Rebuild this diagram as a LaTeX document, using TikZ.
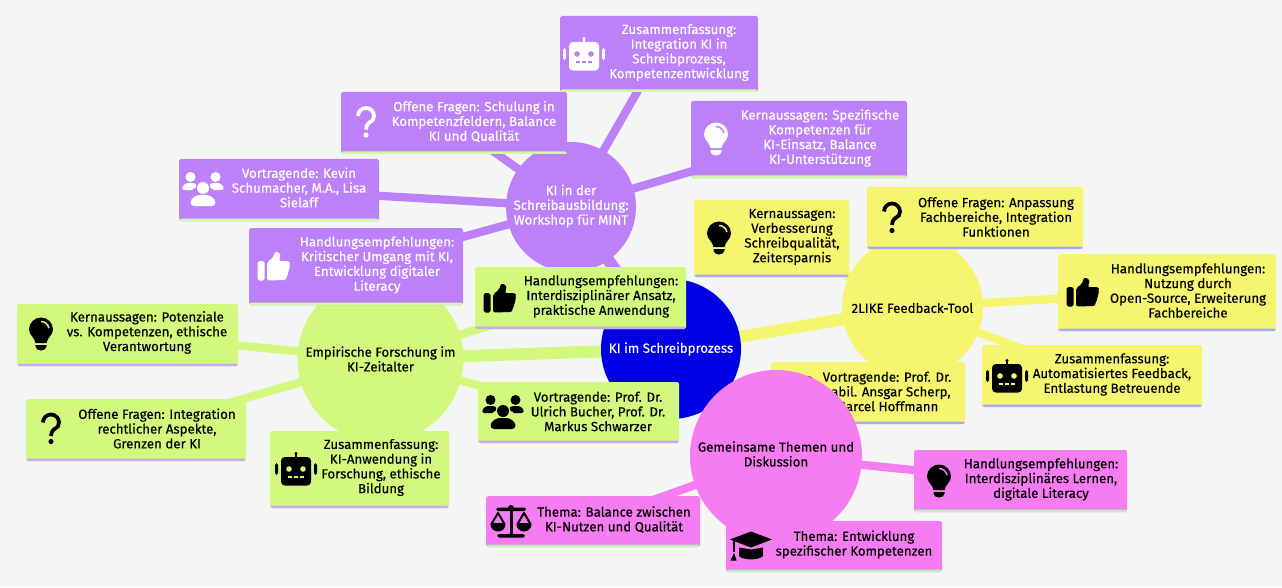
\documentclass[tikz,border=0pt]{standalone}
\usepackage{fontspec}
\setmainfont[RawFeature={embolden=0.3}]{Fira Sans}
\usepackage{tikz}
\pgfdeclarelayer{bg}
\pgfsetlayers{bg,main}
\definecolor{pagebg}{HTML}{F4F6F6}
\definecolor{rootc}{HTML}{0000E4}
\definecolor{purplec}{HTML}{BC80F9}
\definecolor{yellowc}{HTML}{F6F570}
\definecolor{greenc}{HTML}{D2F97E}
\definecolor{pinkc}{HTML}{F57CF1}
\definecolor{purplestrip}{HTML}{D4F6A8}
\definecolor{yellowstrip}{HTML}{A9A9FB}
\definecolor{greenstrip}{HTML}{C8A8F9}
\definecolor{pinkstrip}{HTML}{B8F2B8}
\tikzset{
    every node/.style={inner sep=0mm, align=center, font=\fontsize{7.55}{8.39}\selectfont},
    hub/.style={circle, fill=#1},
    leaf/.style 2 args={rectangle, rounded corners=1pt, fill=#1, path picture={
        \fill[#2] ([yshift=.05cm]path picture bounding box.south west) rectangle (path picture bounding box.south east);}},
    tag/.style={yshift=-.03cm},
    stem/.style={line width=.24cm, draw=#1},
    twig/.style={line width=.165cm, draw=#1},
    icon/.style={scale=.02},
    pics/bulb/.style 2 args={code={
        \fill[#1] (-5.5,-9) .. controls (-6,-4) and (-12,-1) .. (-12,4.5) arc[start angle=180, end angle=0, radius=12] .. controls (12,-1) and (6,-4) .. (5.5,-9) -- cycle;
        \draw[#2, line width=.03cm] (0,12.5) arc[start angle=90, end angle=10, radius=8];
        \fill[#1] (-5.5,-11) -- (5.5,-11) -- (5.5,-12.5) arc[start angle=0, end angle=-180, x radius=5.5, y radius=4] -- cycle;
    }},
    pics/hook/.style={code={
        \draw[#1, line width=.075cm] (-8,6.5) arc[start angle=180, end angle=-30, radius=8] .. controls (4,0) and (0,-1) .. (0,-7);
        \fill[#1] (0,-12.5) circle[radius=2.6];
    }},
    pics/thumb/.style={code={
        \fill[#1, rounded corners=1pt] (-16.5,-14.5) rectangle (-9.5,5);
        \fill[#1, rounded corners=1.2pt] (-7,-14.5) -- (-7,4) -- (-1,8) -- (1,14.5) -- (6,13) -- (6.5,8) -- (4.5,5) -- (15,5) -- (16.5,2) -- (15,-2) -- (15,-6) -- (13,-9) -- (12,-14) -- cycle;
    }},
    pics/people/.style={code={
        \fill[#1] (-12.5,12) circle[radius=5];
        \fill[#1] (12.5,12) circle[radius=5];
        \fill[#1] (0,1) circle[radius=6];
        \fill[#1, rounded corners=1pt] (-21,-1) .. controls (-20,5) and (-16,6) .. (-12.5,6) .. controls (-9,6) and (-7,5) .. (-6,3) .. controls (-8,1) and (-9,-1) .. (-9,-1) -- cycle;
        \fill[#1, rounded corners=1pt] (21,-1) .. controls (20,5) and (16,6) .. (12.5,6) .. controls (9,6) and (7,5) .. (6,3) .. controls (8,1) and (9,-1) .. (9,-1) -- cycle;
        \fill[#1, rounded corners=2pt] (-12.5,-17) .. controls (-12.5,-9) and (-6,-6) .. (0,-6) .. controls (6,-6) and (12.5,-9) .. (12.5,-17) -- cycle;
    }},
    pics/robot/.style 2 args={code={
        \fill[#1, rounded corners=2.2pt] (-15,-16.5) rectangle (15,12);
        \fill[#1] (-1.2,12) rectangle (1.2,15);
        \fill[#1] (0,15.5) circle[radius=1.6];
        \fill[#1, rounded corners=1pt] (-21,-6) rectangle (-18,6);
        \fill[#1, rounded corners=1pt] (21,-6) rectangle (18,6);
        \fill[#2] (-7,0) circle[radius=2.8];
        \fill[#2] (7,0) circle[radius=2.8];
        \fill[#2] (-8,-9) rectangle (-4,-7);
        \fill[#2] (-2,-9) rectangle (2,-7);
        \fill[#2] (4,-9) rectangle (8,-7);
    }},
    pics/balance/.style={code={
        \fill[#1] (-1.5,-14) rectangle (1.5,13);
        \fill[#1, rounded corners=1pt] (-14,-16.5) rectangle (14,-13);
        \fill[#1, rounded corners=1pt] (-15,10) rectangle (15,13.5);
        \fill[#1] (0,13) circle[radius=3];
        \draw[#1, line width=.04cm, line join=round] (-19.5,-3) -- (-13,8) -- (-6.5,-3) -- cycle;
        \draw[#1, line width=.04cm, line join=round] (19.5,-3) -- (13,8) -- (6.5,-3) -- cycle;
        \fill[#1] (-20.5,-3) arc[start angle=180, end angle=360, radius=7.5];
        \fill[#1] (5.5,-3) arc[start angle=180, end angle=360, radius=7.5];
    }},
    pics/gradcap/.style={code={
        \fill[#1] (0,14.5) -- (21,6.5) -- (0,-1.5) -- (-21,6.5) -- cycle;
        \fill[#1] (-12,-1.5) -- (0,-3.5) -- (12,-1.5) -- (12,-10) .. controls (8,-14.5) and (-8,-14.5) .. (-12,-10) -- cycle;
        \draw[#1, line width=.03cm] (-17,5) -- (-17,-6);
        \fill[#1] (-17,-7) -- (-14.5,-14.5) -- (-20.5,-14.5) -- cycle;
    }}
}

\begin{document}
\begin{tikzpicture}
    \begin{pgfonlayer}{bg}
        \fill[pagebg] (0cm, 0cm) rectangle (25.64cm, 11.74cm);
    \end{pgfonlayer}
    \useasboundingbox (0cm, 0cm) rectangle (25.64cm, 11.74cm);

    \node (root) [hub=rootc, minimum size=2.80cm, text=white] at (13.42cm, 4.76cm) {KI im Schreibprozess};
    \node (gc) [hub=greenc, minimum size=3.32cm] at (7.61cm, 4.56cm) {Empirische Forschung im\\KI-Zeitalter};
    \node (yc) [hub=yellowc, minimum size=2.82cm, label={[yshift=-.02cm]center:2LIKE Feedback-Tool}] at (18.25cm, 5.60cm) {};

    % yellow leaves
    \node (yker) [leaf={yellowc}{yellowstrip}, minimum width=3.10cm, minimum height=1.54cm] at (15.43cm, 6.97cm) {};
    \node (yfra) [leaf={yellowc}{yellowstrip}, minimum width=4.32cm, minimum height=1.24cm] at (19.50cm, 7.38cm) {};
    \node (yhan) [leaf={yellowc}{yellowstrip}, minimum width=4.36cm, minimum height=1.54cm] at (23.34cm, 5.89cm) {};
    \node (yzus) [leaf={yellowc}{yellowstrip}, minimum width=4.40cm, minimum height=1.24cm] at (21.84cm, 4.22cm) {};
    \node (yvor) [leaf={yellowc}{yellowstrip}, minimum width=3.88cm, minimum height=1.24cm] at (17.36cm, 3.88cm) {};
    \node (ytker) [tag] at (15.84cm, 7.03cm) {Kernaussagen:\\Verbesserung\\Schreibqualität,\\Zeitersparnis};
    \node (ytfra) [tag] at (19.92cm, 7.43cm) {Offene Fragen: Anpassung\\Fachbereiche, Integration\\Funktionen};
    \node (ythan) [tag] at (23.76cm, 5.96cm) {Handlungsempfehlungen:\\Nutzung durch\\Open-Source, Erweiterung\\Fachbereiche};
    \node (ytzus) [tag] at (22.24cm, 4.28cm) {Zusammenfassung:\\Automatisiertes Feedback,\\Entlastung Betreuende};
    \node (ytvor) [tag] at (17.74cm, 3.94cm) {Vortragende: Prof. Dr.\\habil. Ansgar Scherp,\\Marcel Hoffmann};
    \pic[icon] at (14.38cm, 6.98cm) {bulb={black}{yellowc}};
    \pic[icon] at (17.84cm, 7.38cm) {hook=black};
    \pic[icon] at (21.66cm, 5.90cm) {thumb=black};
    \pic[icon] at (20.14cm, 4.22cm) {robot={black}{yellowc}};
    \pic[icon] at (15.92cm, 3.88cm) {people=black};

    \node (mc) [hub=pinkc, minimum size=3.44cm, label={[yshift=.04cm]center:Gemeinsame Themen und\\Diskussion}] at (15.52cm, 2.62cm) {};
    \node (pc) [hub=purplec, minimum size=2.60cm, label={[yshift=.02cm, text=white]center:KI in der\\Schreibausbildung:\\Workshop für MINT}] at (11.42cm, 7.60cm) {};

    % purple leaves
    \node (pzus) [leaf={purplec}{purplestrip}, minimum width=3.96cm, minimum height=1.52cm] at (13.18cm, 10.66cm) {};
    \node (pfra) [leaf={purplec}{purplestrip}, minimum width=4.52cm, minimum height=1.24cm] at (9.08cm, 9.28cm) {};
    \node (pvor) [leaf={purplec}{purplestrip}, minimum width=4.00cm, minimum height=1.24cm] at (5.58cm, 7.94cm) {};
    \node (phan) [leaf={purplec}{purplestrip}, minimum width=4.28cm, minimum height=1.54cm] at (7.12cm, 6.41cm) {};
    \node (pker) [leaf={purplec}{purplestrip}, minimum width=4.32cm, minimum height=1.54cm] at (15.98cm, 8.95cm) {};
    \node (ptzus) [tag, text=white] at (13.58cm, 10.72cm) {Zusammenfassung:\\Integration KI in\\Schreibprozess,\\Kompetenzentwicklung};
    \node (ptfra) [tag, text=white] at (9.48cm, 9.34cm) {Offene Fragen: Schulung in\\Kompetenzfeldern, Balance\\KI und Qualität};
    \node (ptvor) [tag, text=white] at (5.98cm, 8.02cm) {Vortragende: Kevin\\Schumacher, M.A., Lisa\\Sielaff};
    \node (pthan) [tag, text=white] at (7.54cm, 6.47cm) {Handlungsempfehlungen:\\Kritischer Umgang mit KI,\\Entwicklung digitaler\\Literacy};
    \node (ptker) [tag, text=white] at (16.40cm, 9.01cm) {Kernaussagen: Spezifische\\Kompetenzen für\\KI-Einsatz, Balance\\KI-Unterstützung};
    \pic[icon] at (11.68cm, 10.66cm) {robot={white}{purplec}};
    \pic[icon] at (7.32cm, 9.29cm) {hook=white};
    \pic[icon] at (4.06cm, 7.96cm) {people=white};
    \pic[icon] at (5.48cm, 6.42cm) {thumb=white};
    \pic[icon] at (14.32cm, 8.96cm) {bulb={white}{purplec}};

    % green leaves
    \node (ghan) [leaf={greenc}{greenstrip}, minimum width=4.22cm, minimum height=1.24cm] at (11.61cm, 5.78cm) {};
    \node (gvor) [leaf={greenc}{greenstrip}, minimum width=4.02cm, minimum height=1.22cm] at (11.57cm, 3.49cm) {};
    \node (gker) [leaf={greenc}{greenstrip}, minimum width=4.42cm, minimum height=1.24cm] at (2.55cm, 5.04cm) {};
    \node (gfra) [leaf={greenc}{greenstrip}, minimum width=4.40cm, minimum height=1.24cm] at (2.72cm, 3.14cm) {};
    \node (gzus) [leaf={greenc}{greenstrip}, minimum width=3.58cm, minimum height=1.54cm] at (7.19cm, 2.35cm) {};
    \node (gthan) [tag] at (12.02cm, 5.84cm) {Handlungsempfehlungen:\\Interdisziplinärer Ansatz,\\praktische Anwendung};
    \node (gtvor) [tag] at (11.96cm, 3.54cm) {Vortragende: Prof. Dr.\\Ulrich Bucher, Prof. Dr.\\Markus Schwarzer};
    \node (gtker) [tag] at (2.94cm, 5.12cm) {Kernaussagen: Potenziale\\vs. Kompetenzen, ethische\\Verantwortung};
    \node (gtfra) [tag] at (3.14cm, 3.20cm) {Offene Fragen: Integration\\rechtlicher Aspekte,\\Grenzen der KI};
    \node (gtzus) [tag] at (7.62cm, 2.42cm) {Zusammenfassung:\\KI-Anwendung in\\Forschung, ethische\\Bildung};
    \pic[icon] at (10.00cm, 5.78cm) {thumb=black};
    \pic[icon] at (10.06cm, 3.50cm) {people=black};
    \pic[icon] at (0.82cm, 5.06cm) {bulb={black}{greenc}};
    \pic[icon] at (1.02cm, 3.16cm) {hook=black};
    \pic[icon] at (5.92cm, 2.36cm) {robot={black}{greenc}};

    % pink leaves
    \node (mbal) [leaf={pinkc}{pinkstrip}, minimum width=4.28cm, minimum height=1.02cm] at (11.86cm, 1.31cm) {};
    \node (ment) [leaf={pinkc}{pinkstrip}, minimum width=4.32cm, minimum height=1.02cm] at (16.68cm, 0.81cm) {};
    \node (mhan) [leaf={pinkc}{pinkstrip}, minimum width=4.26cm, minimum height=1.24cm] at (20.41cm, 2.12cm) {};
    \node (mtbal) [tag] at (12.28cm, 1.38cm) {Thema: Balance zwischen\\KI-Nutzen und Qualität};
    \node (mtent) [tag] at (17.08cm, 0.88cm) {Thema: Entwicklung\\spezifischer Kompetenzen};
    \node (mthan) [tag] at (20.82cm, 2.18cm) {Handlungsempfehlungen:\\Interdisziplinäres Lernen,\\digitale Literacy};
    \pic[icon] at (10.22cm, 1.32cm) {balance=black};
    \pic[icon] at (15.02cm, 0.82cm) {gradcap=black};
    \pic[icon] at (18.78cm, 2.12cm) {bulb={black}{pinkc}};

    \begin{pgfonlayer}{bg}
        \draw[stem=purplec] (root.center) edge (pc.center);
        \draw[stem=yellowc] (root.center) edge (yc.center);
        \draw[stem=greenc] (root.center) edge (gc.center);
        \draw[stem=pinkc] (root.center) edge (mc.center);

        \draw[twig=purplec] (pc.center) edge (pzus.center);
        \draw[twig=purplec] (pc.center) edge (pfra.center);
        \draw[twig=purplec] (pc.center) edge (pvor.center);
        \draw[twig=purplec] (pc.center) edge (phan.center);
        \draw[twig=purplec] (pc.center) edge (pker.center);

        \draw[twig=yellowc] (yc.center) edge (yker.center);
        \draw[twig=yellowc] (yc.center) edge (yfra.center);
        \draw[twig=yellowc] (yc.center) edge (yhan.center);
        \draw[twig=yellowc] (yc.center) edge (yzus.center);
        \draw[twig=yellowc] (yc.center) edge (yvor.center);

        \draw[twig=greenc] (gc.center) edge (ghan.center);
        \draw[twig=greenc] (gc.center) edge (gvor.center);
        \draw[twig=greenc] (gc.center) edge (gker.center);
        \draw[twig=greenc] (gc.center) edge (gfra.center);
        \draw[twig=greenc] (gc.center) edge (gzus.center);

        \draw[twig=pinkc] (mc.center) edge (mbal.center);
        \draw[twig=pinkc] (mc.center) edge (ment.center);
        \draw[twig=pinkc] (mc.center) edge (mhan.center);
    \end{pgfonlayer}
\end{tikzpicture}
\end{document}
